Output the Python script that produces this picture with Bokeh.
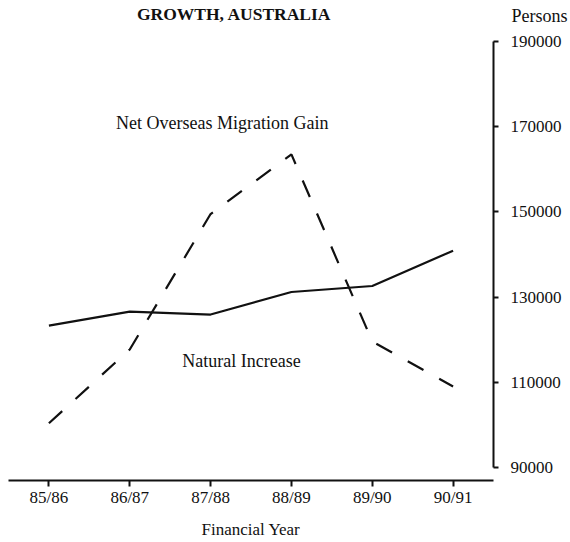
from bokeh.plotting import figure
from bokeh.models import Range1d, FixedTicker
from bokeh.layouts import column
from bokeh.core.properties import value
from bokeh.embed import file_html
from bokeh.resources import INLINE

years = ["85/86", "86/87", "87/88", "88/89", "89/90", "90/91"]
natural_increase = [123300, 126600, 125900, 131200, 132600, 140900]
net_overseas_migration = [100400, 117700, 149500, 163500, 119600, 109000]
y_ticks = [90000, 110000, 130000, 150000, 170000, 190000]

x_idx = list(range(len(years)))
FONT = "Liberation Serif"
INK = "#111111"

# --- header strip: title and the unit label of the right axis ---
top = figure(width=570, height=30, output_backend="svg", toolbar_location=None,
             x_range=Range1d(-0.5, 5.5), y_range=Range1d(30, 0),
             x_axis_location=None, y_axis_location="right",
             min_border_left=8, min_border_right=75, min_border_top=0, min_border_bottom=0)
top.outline_line_color = None
top.grid.grid_line_color = None
ta = top.yaxis[0]
ta.ticker = FixedTicker(ticks=[15.0])
ta.major_label_overrides = {15.0: "Persons"}
ta.axis_line_color = None
ta.major_tick_line_color = None
ta.minor_tick_line_color = None
ta.major_tick_in = 0
ta.major_tick_out = 0
ta.major_label_standoff = 18
ta.major_label_text_font = FONT
ta.major_label_text_font_size = "18px"
ta.major_label_text_color = INK
top.text(x=[1.089], y=[13.5], text=["GROWTH, AUSTRALIA"], text_font=value(FONT),
         text_font_size="17.5px", text_font_style="bold", text_color=INK,
         text_align="left", text_baseline="alphabetic")

# --- main chart ---
p = figure(width=570, height=512, output_backend="svg", toolbar_location=None,
           x_range=Range1d(-0.5, 5.5), y_range=Range1d(86948, 192582),
           y_axis_location="right",
           min_border_left=8, min_border_right=75, min_border_top=0, min_border_bottom=62)
p.outline_line_color = None
p.grid.grid_line_color = None

xa = p.xaxis[0]
xa.ticker = FixedTicker(ticks=x_idx)
xa.major_label_overrides = {i: y for i, y in zip(x_idx, years)}
xa.minor_tick_line_color = None
xa.major_tick_in = 0
xa.major_tick_out = 6
xa.axis_line_width = 2
xa.major_tick_line_width = 2
xa.axis_line_color = INK
xa.major_tick_line_color = INK
xa.major_label_text_font = FONT
xa.major_label_text_font_size = "17px"
xa.major_label_text_color = INK
xa.major_label_standoff = 1
xa.axis_label = "Financial Year"
xa.axis_label_text_font = FONT
xa.axis_label_text_font_size = "17px"
xa.axis_label_text_font_style = "normal"
xa.axis_label_text_color = INK
xa.axis_label_standoff = 10

ya = p.yaxis[0]
ya.ticker = FixedTicker(ticks=y_ticks)
ya.major_label_overrides = {t: str(t) for t in y_ticks}
ya.bounds = (y_ticks[0], y_ticks[-1])
ya.minor_tick_line_color = None
ya.major_tick_in = 0
ya.major_tick_out = 5
ya.axis_line_width = 2
ya.major_tick_line_width = 2
ya.axis_line_color = INK
ya.major_tick_line_color = INK
ya.major_label_text_font = FONT
ya.major_label_text_font_size = "17px"
ya.major_label_text_color = INK
ya.major_label_standoff = 12

p.line(x_idx, natural_increase, line_color=INK, line_width=2.2)
p.line(x_idx, net_overseas_migration, line_color=INK, line_width=2.2,
       line_dash="18 18")

p.text(x=[0.830], y=[170900], text=["Net Overseas Migration Gain"], text_font=value(FONT),
       text_font_size="18px", text_color=INK, text_align="left", text_baseline="alphabetic")
p.text(x=[1.651], y=[114950], text=["Natural Increase"], text_font=value(FONT),
       text_font_size="18px", text_color=INK, text_align="left", text_baseline="alphabetic")

layout = column(top, p, spacing=0)
open("out.html", "w").write(file_html(layout, INLINE))
